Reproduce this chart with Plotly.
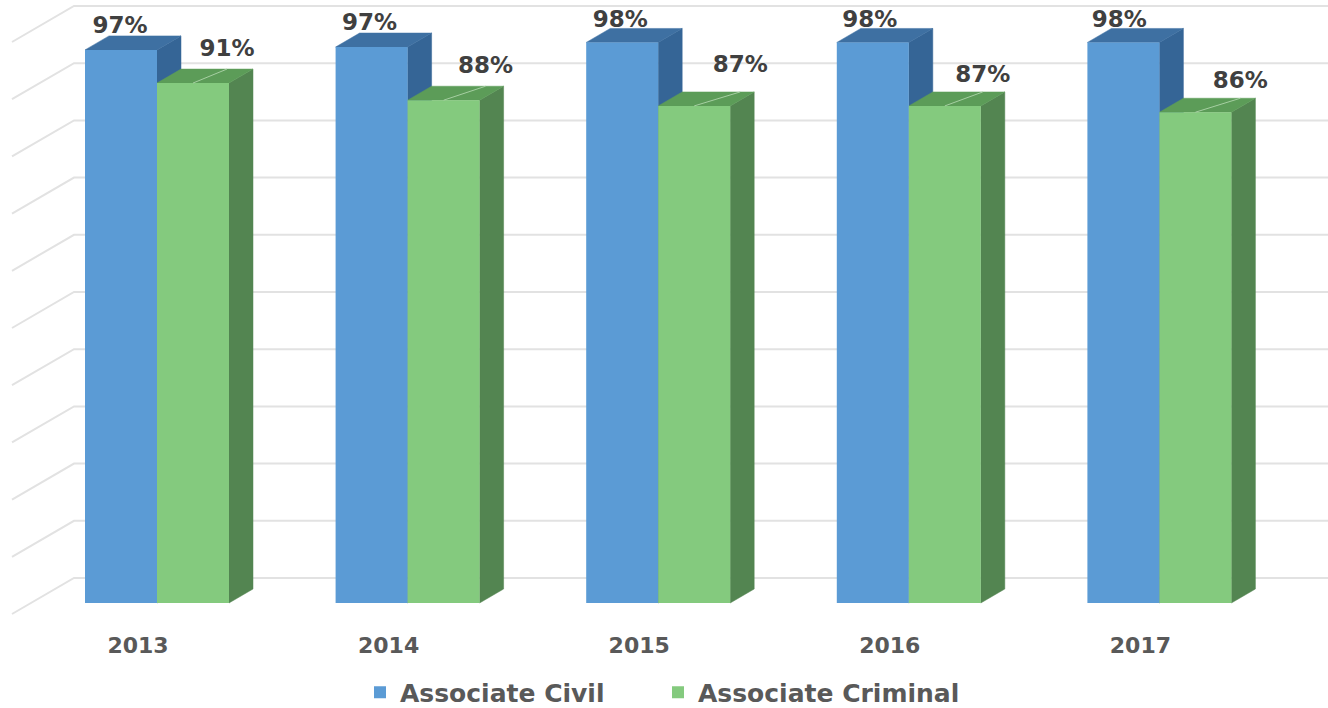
import plotly.graph_objects as go

# ---- data ----
years = [2013, 2014, 2015, 2016, 2017]
civil = [96.7, 97.2, 98.0, 98.0, 98.0]
criminal = [90.9, 87.9, 86.9, 86.9, 85.8]
grid_values = [0, 10, 20, 30, 40, 50, 60, 70, 80, 90, 100]

# ---- label nudges (pixels from each bar's front-top centre) ----
civil_label_dx = [-1, -2, -2, -3, -4]
civil_label_dy = [23, 23, 21, 21, 21]
criminal_label_dx = [34, 42, 46, 38, 45]
criminal_label_dy = [33, 33, 40, 30, 30]

# ---- geometry ----
W, H = 1328, 708
PX_X = 250.6           # pixels per year
PX_Y = 5.72            # pixels per percent
TICK_PX = 138          # pixel position of the first tick
FLOOR_PX = 603         # pixel of value 0
PLOT_BOTTOM = 628
BAR_W = 72 / PX_X
CIVIL_OFF = -53 / PX_X
CRIM_OFF = 19 / PX_X
DX, DY = 24 / PX_X, 14 / PX_Y

x_range = [years[0] - TICK_PX / PX_X, years[0] + (W - TICK_PX) / PX_X]
y_range = [-(PLOT_BOTTOM - FLOOR_PX) / PX_Y, FLOOR_PX / PX_Y]

CIVIL_FRONT, CIVIL_TOP, CIVIL_SIDE = "#5B9BD5", "#3E70A2", "#356596"
CRIM_FRONT, CRIM_TOP, CRIM_SIDE = "#84CA7E", "#5C9C58", "#538551"
GRID = "#E2E2E2"
FONT = "DejaVu Sans"


def faces(values, offset):
    side_x, side_y, top_x, top_y = [], [], [], []
    for yr, v in zip(years, values):
        l = yr + offset
        r = l + BAR_W
        side_x += [r, r + DX, r + DX, r, r, None]
        side_y += [0, DY, v + DY, v, 0, None]
        top_x += [l, l + DX, r + DX, r, l, None]
        top_y += [v, v + DY, v + DY, v, v, None]
    return side_x, side_y, top_x, top_y


def poly(x, y, color, name):
    return go.Scatter(x=x, y=y, mode="lines", fill="toself", fillcolor=color,
                      line=dict(color=color, width=0.5), hoverinfo="skip",
                      showlegend=False, name=name, xaxis="x", yaxis="y")


fig = go.Figure()

# back wall / side wall grid lines
gx, gy = [], []
for v in grid_values:
    gx += [x_range[0] + 12 / PX_X, x_range[0] + 74 / PX_X, x_range[1], None]
    gy += [v - 11 / PX_Y, v + 25 / PX_Y, v + 25 / PX_Y, None]
fig.add_trace(go.Scatter(x=gx, y=gy, mode="lines", line=dict(color=GRID, width=2),
                         hoverinfo="skip", showlegend=False, name="grid"))

# depth faces
sx, sy, tx, ty = faces(civil, CIVIL_OFF)
fig.add_trace(poly(sx, sy, CIVIL_SIDE, "civil side"))
fig.add_trace(poly(tx, ty, CIVIL_TOP, "civil top"))
sx, sy, tx, ty = faces(criminal, CRIM_OFF)
fig.add_trace(poly(sx, sy, CRIM_SIDE, "criminal side"))
fig.add_trace(poly(tx, ty, CRIM_TOP, "criminal top"))

# front faces
fig.add_trace(go.Bar(x=years, y=civil, name="Associate Civil", width=BAR_W, offset=CIVIL_OFF,
                     marker=dict(color=CIVIL_FRONT, line=dict(width=0)), yaxis="y2", xaxis="x",
                     legend="legend"))
fig.add_trace(go.Bar(x=years, y=criminal, name="Associate Criminal", width=BAR_W, offset=CRIM_OFF,
                     marker=dict(color=CRIM_FRONT, line=dict(width=0)), yaxis="y2", xaxis="x",
                     legend="legend2"))

# leader lines
crim_centre = [yr + CRIM_OFF + BAR_W / 2 for yr in years]
crim_label_x = [c + d / PX_X for c, d in zip(crim_centre, criminal_label_dx)]
lx, ly = [], []
for c, lab, v in zip(crim_centre, crim_label_x, criminal):
    lx += [c, lab, None]
    ly += [v, v + DY, None]
fig.add_trace(go.Scatter(x=lx, y=ly, mode="lines", line=dict(color="#A6CFA2", width=1),
                         hoverinfo="skip", showlegend=False, name="leaders", yaxis="y2", xaxis="x"))

# data labels
civil_centre = [yr + CIVIL_OFF + BAR_W / 2 for yr in years]
fig.add_trace(go.Scatter(
    x=[c + d / PX_X for c, d in zip(civil_centre, civil_label_dx)],
    y=[v + d / PX_Y for v, d in zip(civil, civil_label_dy)],
    text=[f"{round(v)}%" for v in civil], mode="text", textposition="middle center",
    textfont=dict(family=FONT, size=23, color="#404040", weight="bold"),
    hoverinfo="skip", showlegend=False, name="civil labels", yaxis="y2", xaxis="x"))
fig.add_trace(go.Scatter(
    x=crim_label_x,
    y=[v + d / PX_Y for v, d in zip(criminal, criminal_label_dy)],
    text=[f"{round(v)}%" for v in criminal], mode="text", textposition="middle center",
    textfont=dict(family=FONT, size=23, color="#404040", weight="bold"),
    hoverinfo="skip", showlegend=False, name="criminal labels", yaxis="y2", xaxis="x"))

legend_style = dict(orientation="h", xanchor="left", y=-0.066, yanchor="top",
                    bgcolor="rgba(0,0,0,0)",
                    font=dict(family=FONT, size=25, color="#595959", weight="bold"))

fig.update_layout(
    width=W, height=H,
    margin=dict(l=0, r=0, t=0, b=H - PLOT_BOTTOM, pad=0, autoexpand=False),
    paper_bgcolor="white", plot_bgcolor="white",
    barmode="overlay",
    font=dict(family=FONT, color="#595959"),
    xaxis=dict(range=x_range, tickmode="array", tickvals=years, ticktext=[str(y) for y in years],
               showgrid=False, zeroline=False, showline=False, ticks="", ticklabelstandoff=2,
               tickfont=dict(family=FONT, size=22, color="#595959", weight="bold")),
    yaxis=dict(range=y_range, visible=False),
    yaxis2=dict(range=y_range, visible=False, overlaying="y"),
    legend=dict(x=360 / W, **legend_style),
    legend2=dict(x=658 / W, **legend_style),
)

fig.write_html("out.html", config=dict(displayModeBar=False),
               post_script="document.body.style.margin='0';")
